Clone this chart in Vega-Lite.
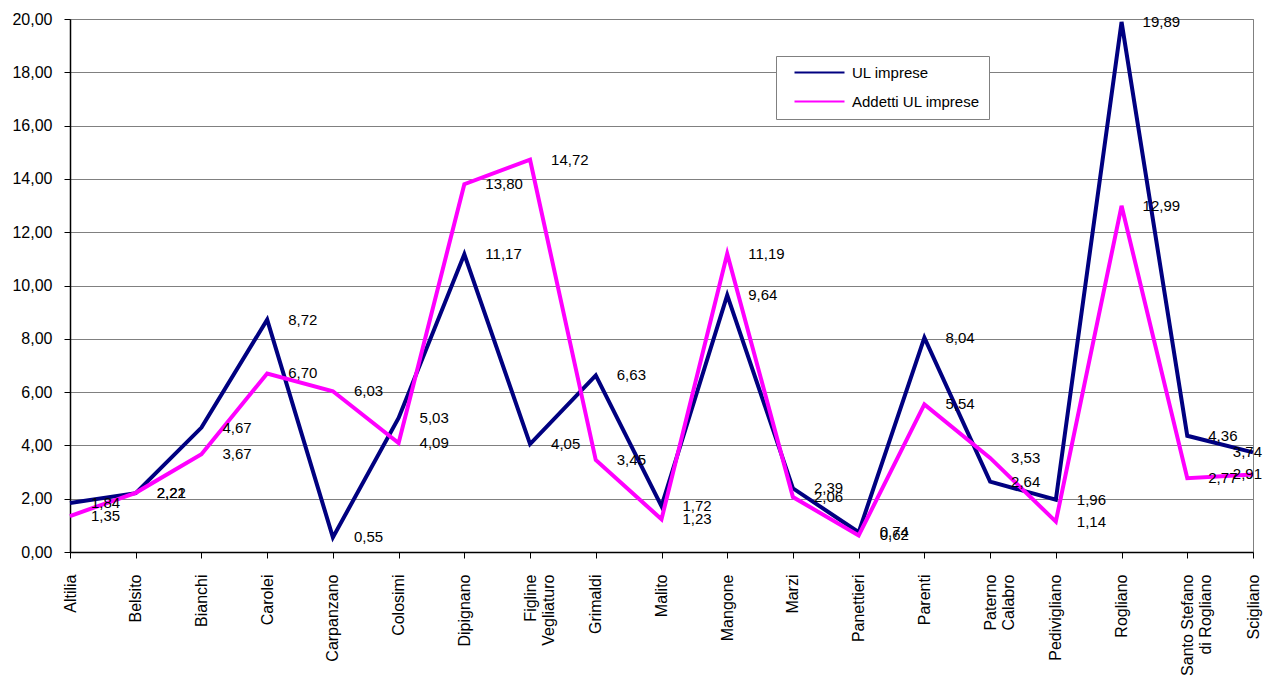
{
  "$schema": "https://vega.github.io/schema/vega-lite/v6.json",
  "width": 1183,
  "height": 533,
  "autosize": {"type": "none"},
  "padding": {"left": 70, "top": 19, "right": 10, "bottom": 132},
  "background": "white",
  "config": {
    "locale": {"number": {"decimal": ",", "thousands": ".", "grouping": [3], "currency": ["", " €"]}},
    "font": "Liberation Sans",
    "view": {"stroke": "#808080", "strokeWidth": 1}
  },
  "data": {
    "values": [
      {"comune": "Altilia", "serie": "UL imprese", "valore": 1.84},
      {"comune": "Belsito", "serie": "UL imprese", "valore": 2.21},
      {"comune": "Bianchi", "serie": "UL imprese", "valore": 4.67},
      {"comune": "Carolei", "serie": "UL imprese", "valore": 8.72},
      {"comune": "Carpanzano", "serie": "UL imprese", "valore": 0.55},
      {"comune": "Colosimi", "serie": "UL imprese", "valore": 5.03},
      {"comune": "Dipignano", "serie": "UL imprese", "valore": 11.17},
      {"comune": "Figline Vegliaturo", "serie": "UL imprese", "valore": 4.05},
      {"comune": "Grimaldi", "serie": "UL imprese", "valore": 6.63},
      {"comune": "Malito", "serie": "UL imprese", "valore": 1.72},
      {"comune": "Mangone", "serie": "UL imprese", "valore": 9.64},
      {"comune": "Marzi", "serie": "UL imprese", "valore": 2.39},
      {"comune": "Panettieri", "serie": "UL imprese", "valore": 0.74},
      {"comune": "Parenti", "serie": "UL imprese", "valore": 8.04},
      {"comune": "Paterno Calabro", "serie": "UL imprese", "valore": 2.64},
      {"comune": "Pedivigliano", "serie": "UL imprese", "valore": 1.96},
      {"comune": "Rogliano", "serie": "UL imprese", "valore": 19.89},
      {"comune": "Santo Stefano di Rogliano", "serie": "UL imprese", "valore": 4.36},
      {"comune": "Scigliano", "serie": "UL imprese", "valore": 3.74},
      {"comune": "Altilia", "serie": "Addetti UL imprese", "valore": 1.35},
      {"comune": "Belsito", "serie": "Addetti UL imprese", "valore": 2.22},
      {"comune": "Bianchi", "serie": "Addetti UL imprese", "valore": 3.67},
      {"comune": "Carolei", "serie": "Addetti UL imprese", "valore": 6.70},
      {"comune": "Carpanzano", "serie": "Addetti UL imprese", "valore": 6.03},
      {"comune": "Colosimi", "serie": "Addetti UL imprese", "valore": 4.09},
      {"comune": "Dipignano", "serie": "Addetti UL imprese", "valore": 13.80},
      {"comune": "Figline Vegliaturo", "serie": "Addetti UL imprese", "valore": 14.72},
      {"comune": "Grimaldi", "serie": "Addetti UL imprese", "valore": 3.45},
      {"comune": "Malito", "serie": "Addetti UL imprese", "valore": 1.23},
      {"comune": "Mangone", "serie": "Addetti UL imprese", "valore": 11.19},
      {"comune": "Marzi", "serie": "Addetti UL imprese", "valore": 2.06},
      {"comune": "Panettieri", "serie": "Addetti UL imprese", "valore": 0.62},
      {"comune": "Parenti", "serie": "Addetti UL imprese", "valore": 5.54},
      {"comune": "Paterno Calabro", "serie": "Addetti UL imprese", "valore": 3.53},
      {"comune": "Pedivigliano", "serie": "Addetti UL imprese", "valore": 1.14},
      {"comune": "Rogliano", "serie": "Addetti UL imprese", "valore": 12.99},
      {"comune": "Santo Stefano di Rogliano", "serie": "Addetti UL imprese", "valore": 2.77},
      {"comune": "Scigliano", "serie": "Addetti UL imprese", "valore": 2.91}
    ]
  },
  "encoding": {
    "x": {
      "field": "comune",
      "type": "nominal",
      "sort": null,
      "scale": {"type": "point", "padding": 0},
      "axis": {
        "title": null,
        "labelAngle": -90,
        "labelFontSize": 16,
        "labelColor": "black",
        "labelPadding": 16,
        "labelLineHeight": 18,
        "labelExpr": "datum.label == 'Figline Vegliaturo' ? ['Figline', 'Vegliaturo'] : datum.label == 'Paterno Calabro' ? ['Paterno', 'Calabro'] : datum.label == 'Santo Stefano di Rogliano' ? ['Santo Stefano', 'di Rogliano'] : datum.label",
        "domainColor": "black",
        "domainWidth": 1.5,
        "tickColor": "black",
        "tickSize": 6,
        "grid": false
      }
    },
    "y": {
      "field": "valore",
      "type": "quantitative",
      "scale": {"domain": [0, 20], "nice": false},
      "axis": {
        "title": null,
        "values": [0, 2, 4, 6, 8, 10, 12, 14, 16, 18, 20],
        "format": ".2f",
        "labelFontSize": 16,
        "labelColor": "black",
        "labelPadding": 12,
        "domainColor": "black",
        "domainWidth": 1.5,
        "tickColor": "black",
        "tickSize": 6,
        "grid": true,
        "gridColor": "#808080",
        "gridWidth": 1
      }
    }
  },
  "layer": [
    {
      "mark": {"type": "line", "strokeWidth": 4},
      "encoding": {
        "color": {
          "field": "serie",
          "type": "nominal",
          "scale": {"domain": ["UL imprese", "Addetti UL imprese"], "range": ["#000080", "#FF00FF"]},
          "legend": {
            "title": null,
            "orient": "none",
            "legendX": 706,
            "legendY": 37,
            "symbolType": "M0.4,0H10.4",
            "symbolSize": 100,
            "symbolStrokeWidth": 2,
            "labelFontSize": 15,
            "labelColor": "black",
            "fillColor": "white",
            "strokeColor": "#808080",
            "padding": 9,
            "rowPadding": 13,
            "labelOffset": 52
          }
        }
      }
    },
    {
      "transform": [{"filter": "datum.comune != 'Scigliano'"}],
      "mark": {"type": "text", "align": "left", "baseline": "middle", "dx": 21, "fontSize": 15, "color": "black"},
      "encoding": {
        "text": {"field": "valore", "type": "quantitative", "format": ".2f"}
      }
    },
    {
      "transform": [{"filter": "datum.comune == 'Scigliano'"}],
      "mark": {"type": "text", "align": "right", "baseline": "middle", "dx": 9, "fontSize": 15, "color": "black"},
      "encoding": {
        "text": {"field": "valore", "type": "quantitative", "format": ".2f"}
      }
    }
  ]
}
